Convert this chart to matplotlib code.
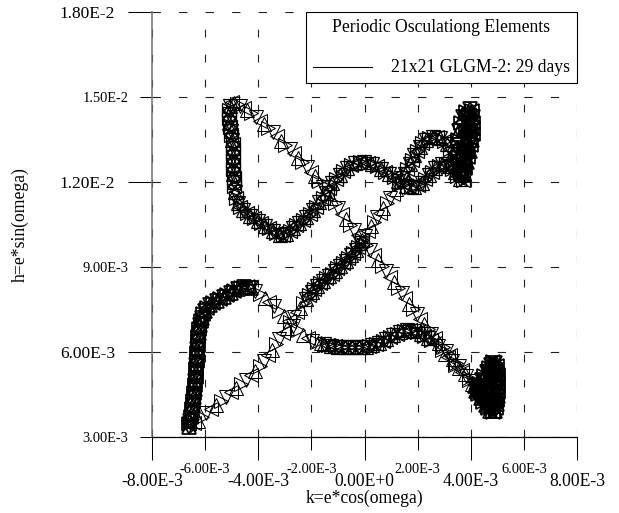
import numpy as np
import matplotlib
matplotlib.use("Agg")
import matplotlib.pyplot as plt
from matplotlib.lines import Line2D
from matplotlib.ticker import FuncFormatter

plt.rcParams["font.family"] = ["Liberation Serif", "DejaVu Serif"]

# orbit trace in units of 1E-3, (k, h) pairs, in the order it is flown
left_rise = [(-6.62, 3.36), (-6.60, 3.45), (-6.57, 3.58), (-6.54, 3.72), (-6.51, 3.86), (-6.49, 4.00),
             (-6.47, 4.14), (-6.45, 4.28), (-6.43, 4.42), (-6.41, 4.56), (-6.40, 4.70), (-6.38, 4.84),
             (-6.37, 4.98), (-6.36, 5.12), (-6.35, 5.26), (-6.34, 5.40), (-6.33, 5.54), (-6.32, 5.68),
             (-6.31, 5.82), (-6.30, 5.96), (-6.29, 6.10), (-6.28, 6.24), (-6.27, 6.38), (-6.26, 6.52),
             (-6.24, 6.66), (-6.22, 6.80), (-6.20, 6.94), (-6.17, 7.08), (-6.13, 7.21), (-6.08, 7.34),
             (-6.01, 7.46), (-5.92, 7.57), (-5.81, 7.66), (-5.69, 7.74), (-5.56, 7.81), (-5.43, 7.88),
             (-5.30, 7.95), (-5.17, 8.02), (-5.04, 8.09), (-4.91, 8.16), (-4.78, 8.22), (-4.65, 8.27),
             (-4.52, 8.30), (-4.39, 8.30), (-4.27, 8.26)]

sweep_fall = [(-4.12, 8.17), (-3.94, 8.04), (-3.76, 7.90), (-3.58, 7.76), (-3.40, 7.61), (-3.22, 7.45),
              (-3.04, 7.28), (-2.86, 7.11), (-2.68, 6.93), (-2.50, 6.76), (-2.32, 6.61), (-2.14, 6.49),
              (-1.96, 6.40), (-1.80, 6.34), (-1.65, 6.31)]

sweep_trough = [(-1.52, 6.28), (-1.39, 6.25), (-1.26, 6.22), (-1.13, 6.20), (-1.00, 6.18), (-0.87, 6.17),
                (-0.74, 6.16), (-0.61, 6.16), (-0.48, 6.16), (-0.35, 6.16), (-0.22, 6.17), (-0.09, 6.18),
                (0.04, 6.19), (0.17, 6.21), (0.30, 6.24), (0.43, 6.28), (0.56, 6.33), (0.69, 6.39),
                (0.82, 6.46), (0.95, 6.53), (1.08, 6.59), (1.21, 6.65), (1.34, 6.70), (1.47, 6.74),
                (1.60, 6.77), (1.73, 6.77), (1.86, 6.74), (1.99, 6.69), (2.12, 6.63), (2.25, 6.56),
                (2.38, 6.49), (2.51, 6.42)]

diag_down = [(2.64, 6.33), (2.77, 6.20), (2.90, 6.07), (3.03, 5.94), (3.16, 5.81), (3.29, 5.68),
             (3.42, 5.55), (3.55, 5.42), (3.68, 5.28), (3.81, 5.14), (3.94, 5.00), (4.06, 4.87),
             (4.18, 4.74)]

low_spike = [(4.30, 4.88), (4.41, 5.02), (4.51, 5.16), (4.60, 5.30), (4.69, 5.43), (4.77, 5.55),
             (4.85, 5.65), (4.92, 5.62), (4.97, 5.50), (5.00, 5.35), (5.02, 5.20), (5.03, 5.05),
             (5.04, 4.90), (5.04, 4.75), (5.03, 4.60), (5.02, 4.45), (5.00, 4.30), (4.98, 4.15),
             (4.95, 4.02), (4.90, 3.92), (4.83, 3.88), (4.74, 3.93), (4.65, 4.02), (4.56, 4.13),
             (4.47, 4.25), (4.38, 4.38), (4.29, 4.51), (4.20, 4.64), (4.40, 4.60), (4.52, 4.78),
             (4.62, 4.97), (4.71, 5.16), (4.78, 5.34), (4.86, 5.46), (4.92, 5.30), (4.94, 5.10),
             (4.94, 4.90), (4.92, 4.70), (4.89, 4.50), (4.85, 4.30), (4.80, 4.12), (4.68, 4.20),
             (4.55, 4.36), (4.42, 4.52), (4.30, 4.66), (4.16, 4.80)]

diag_up = [(4.04, 4.96), (3.92, 5.10), (3.80, 5.24), (3.68, 5.37), (3.56, 5.50), (3.44, 5.63),
           (3.32, 5.76), (3.20, 5.89), (3.07, 6.03), (2.94, 6.17), (2.80, 6.32), (2.66, 6.48),
           (2.52, 6.64), (2.38, 6.81), (2.24, 6.98), (2.10, 7.15), (1.96, 7.33), (1.82, 7.51),
           (1.68, 7.70), (1.54, 7.89), (1.40, 8.08), (1.26, 8.27), (1.12, 8.46), (0.97, 8.66),
           (0.82, 8.86), (0.67, 9.05), (0.52, 9.24), (0.37, 9.42), (0.22, 9.60), (0.07, 9.78),
           (-0.08, 9.96), (-0.23, 10.14), (-0.38, 10.32), (-0.53, 10.50), (-0.68, 10.69), (-0.83, 10.88),
           (-0.98, 11.07), (-1.12, 11.26), (-1.26, 11.45), (-1.40, 11.64), (-1.55, 11.83), (-1.70, 12.02),
           (-1.86, 12.20), (-2.02, 12.37), (-2.18, 12.54), (-2.34, 12.70), (-2.50, 12.86), (-2.66, 13.01),
           (-2.82, 13.16), (-2.98, 13.31), (-3.14, 13.46), (-3.30, 13.61), (-3.46, 13.76), (-3.62, 13.90),
           (-3.78, 14.04), (-3.94, 14.17), (-4.10, 14.30), (-4.26, 14.42), (-4.41, 14.53), (-4.55, 14.62),
           (-4.68, 14.70), (-4.80, 14.76), (-4.91, 14.80), (-5.00, 14.82)]

top_loop = [(-5.06, 14.68), (-5.10, 14.54), (-5.12, 14.40), (-5.11, 14.25), (-5.09, 14.10), (-5.06, 13.95),
            (-5.03, 13.80), (-5.01, 13.65), (-4.99, 13.50), (-4.97, 13.35), (-4.96, 13.20), (-4.95, 13.05),
            (-4.94, 12.90), (-4.94, 12.75), (-4.94, 12.60), (-4.94, 12.45), (-4.94, 12.30), (-4.93, 12.15),
            (-4.92, 12.00), (-4.90, 11.85), (-4.88, 11.65), (-4.84, 11.45), (-4.78, 11.27), (-4.68, 11.12),
            (-4.56, 11.00), (-4.43, 10.90), (-4.30, 10.81), (-4.16, 10.72), (-4.02, 10.63), (-3.88, 10.55),
            (-3.74, 10.46), (-3.60, 10.37), (-3.46, 10.28), (-3.32, 10.20), (-3.19, 10.13), (-3.06, 10.12),
            (-2.94, 10.18), (-2.82, 10.27), (-2.70, 10.37), (-2.58, 10.47), (-2.46, 10.57), (-2.33, 10.67),
            (-2.20, 10.77), (-2.07, 10.88), (-1.94, 11.00), (-1.82, 11.13), (-1.70, 11.28), (-1.58, 11.44),
            (-1.46, 11.61), (-1.34, 11.78), (-1.21, 11.95), (-1.08, 12.11), (-0.94, 12.26), (-0.80, 12.40),
            (-0.65, 12.51), (-0.50, 12.60), (-0.34, 12.66), (-0.18, 12.69), (-0.02, 12.70), (0.14, 12.68),
            (0.30, 12.63), (0.46, 12.56), (0.62, 12.47), (0.78, 12.37), (0.94, 12.27), (1.10, 12.16),
            (1.26, 12.05), (1.42, 11.95), (1.58, 11.87), (1.74, 11.82), (1.88, 11.82), (2.02, 11.88),
            (2.15, 11.98), (2.28, 12.10), (2.41, 12.23), (2.54, 12.36), (2.67, 12.48), (2.80, 12.58),
            (2.93, 12.64), (3.06, 12.64), (3.18, 12.57), (3.29, 12.46), (3.40, 12.34), (3.50, 12.22),
            (3.60, 12.12), (3.70, 12.06)]

high_spike = [(3.62, 12.30), (3.56, 12.60), (3.52, 12.90), (3.50, 13.20), (3.52, 13.50), (3.56, 13.80),
              (3.63, 14.08), (3.72, 14.30), (3.83, 14.48), (3.96, 14.58), (4.05, 14.50), (4.09, 14.30),
              (4.10, 14.10), (4.09, 13.90), (4.07, 13.70), (4.04, 13.50), (4.00, 13.30), (3.96, 13.10),
              (3.91, 12.90), (3.85, 12.70), (3.79, 12.50), (3.73, 12.32), (3.72, 12.60), (3.74, 12.90),
              (3.76, 13.20), (3.79, 13.50), (3.83, 13.80), (3.88, 14.10), (3.93, 14.35), (3.96, 14.05),
              (3.92, 13.75), (3.87, 13.45), (3.82, 13.15), (3.78, 12.85), (3.74, 12.55), (3.70, 12.25)]

return_top = [(3.64, 12.30), (3.56, 12.46), (3.48, 12.64), (3.40, 12.82), (3.31, 13.00), (3.21, 13.17),
              (3.10, 13.33), (2.98, 13.46), (2.85, 13.55), (2.71, 13.60), (2.57, 13.60), (2.43, 13.56),
              (2.30, 13.47), (2.18, 13.36), (2.07, 13.23), (1.97, 13.09), (1.88, 12.94), (1.79, 12.78),
              (1.70, 12.62), (1.61, 12.45), (1.52, 12.30)]

return_mid = [(1.42, 12.13), (1.31, 11.95), (1.19, 11.77), (1.07, 11.59), (0.95, 11.42), (0.83, 11.25),
              (0.71, 11.08), (0.59, 10.91), (0.47, 10.75), (0.35, 10.59), (0.23, 10.43), (0.12, 10.27),
              (0.01, 10.11)]

return_knot = [(-0.08, 9.97), (-0.16, 9.84), (-0.24, 9.72), (-0.33, 9.61), (-0.42, 9.51), (-0.51, 9.41),
               (-0.61, 9.31), (-0.71, 9.22), (-0.81, 9.13), (-0.91, 9.04), (-1.02, 8.95), (-1.13, 8.86),
               (-1.24, 8.77), (-1.35, 8.68), (-1.46, 8.60), (-1.57, 8.51), (-1.68, 8.42), (-1.79, 8.32),
               (-1.89, 8.22), (-1.99, 8.11), (-2.09, 8.00), (-2.19, 7.88)]

return_tail = [(-2.30, 7.73), (-2.42, 7.57), (-2.54, 7.40), (-2.66, 7.23), (-2.79, 7.05), (-2.93, 6.86),
               (-3.07, 6.67), (-3.21, 6.47), (-3.35, 6.27), (-3.49, 6.07), (-3.63, 5.88), (-3.78, 5.69),
               (-3.94, 5.51), (-4.11, 5.34), (-4.28, 5.18), (-4.46, 5.03), (-4.64, 4.88), (-4.83, 4.73),
               (-5.02, 4.58), (-5.21, 4.43), (-5.40, 4.28), (-5.59, 4.13), (-5.77, 3.98), (-5.95, 3.84),
               (-6.12, 3.70), (-6.28, 3.58), (-6.42, 3.48), (-6.53, 3.41)]

# slow stretches pile up into dark bands, fast stretches stay as single triangles;
# the turning points are the darkest of all
turn_parts = [left_rise, low_spike, high_spike]
dense_parts = [sweep_trough, top_loop, return_top, return_knot]
sparse_parts = [sweep_fall, diag_down, diag_up, return_mid, return_tail]

x_major = [-8e-3, -4e-3, 0.0, 4e-3, 8e-3]
x_minor = [-6e-3, -2e-3, 2e-3, 6e-3]
y_major = [6e-3, 12e-3, 18e-3]
y_minor = [3e-3, 9e-3, 15e-3]

legend_title = "Periodic Osculationg Elements"
series_label = "21x21 GLGM-2: 29 days"


def sci_label(v, pos):
    if abs(v) < 1e-12:
        return "0.00E+0"
    e = int(np.floor(np.log10(abs(v)) + 1e-9))
    return f"{v / 10 ** e:.2f}E{e:+d}"


def to_kh(parts):
    pts = np.array([p for seg in parts for p in seg]) * 1e-3
    return pts[:, 0], pts[:, 1]


def draw_band(ax, parts, size, width):
    k, h = to_kh(parts)
    for i, pair in enumerate([("v", "^"), (">", "<")]):
        for m in pair:
            ax.plot(k[i::2], h[i::2], ls="none", marker=m, ms=size, mfc="none",
                    mec="black", mew=width, zorder=3)


fig = plt.figure(figsize=(6.19, 5.13), dpi=100)
ax = fig.add_axes([0.2456, 0.1481, 0.6866, 0.8285])

k, h = to_kh(sparse_parts)
for i, m in enumerate(["v", ">", "^", "<"]):
    ax.plot(k[i::4], h[i::4], ls="none", marker=m, ms=9.4, mfc="none",
            mec="black", mew=0.75, zorder=3)

draw_band(ax, dense_parts, 10.5, 0.9)
draw_band(ax, turn_parts, 10.5, 1.25)

ax.set_xlim(-8e-3, 8e-3)
ax.set_ylim(3e-3, 18e-3)
ax.set_xticks(x_major)
ax.set_xticks(x_minor, minor=True)
ax.set_yticks(y_major)
ax.set_yticks(y_minor, minor=True)
for axis in (ax.xaxis, ax.yaxis):
    axis.set_major_formatter(FuncFormatter(sci_label))
    axis.set_minor_formatter(FuncFormatter(sci_label))

ax.tick_params(axis="x", which="major", direction="out", length=16.6, width=0.75, pad=9.3, labelsize=12.7)
ax.tick_params(axis="x", which="minor", direction="out", length=9.4, width=0.75, pad=9.1, labelsize=10.4)
ax.tick_params(axis="y", which="major", direction="out", length=17.3, width=0.75, pad=9.4, labelsize=12.5)
ax.tick_params(axis="y", which="minor", direction="out", length=8.6, width=0.75, pad=8.6, labelsize=10.4)

ax.grid(True, which="both", axis="x", color="#202020", lw=0.8, linestyle=(0, (7.0, 15.5)))
ax.grid(True, which="both", axis="y", color="#202020", lw=0.8, linestyle=(0, (7.5, 16.4)))
ax.set_axisbelow(True)

for side in ("top", "right"):
    ax.spines[side].set_visible(False)
ax.spines["left"].set_color("#707070")
ax.spines["left"].set_linewidth(1.1)
ax.spines["bottom"].set_color("black")
ax.spines["bottom"].set_linewidth(0.9)

ax.set_xlabel("k=e*cos(omega)", fontsize=12.7)
ax.xaxis.set_label_coords(0.5, -0.125)
ax.set_ylabel("h=e*sin(omega)", fontsize=12.7)
ax.yaxis.set_label_coords(-0.29, 0.5)

handle = Line2D([], [], color="black", lw=0.8)
leg = ax.legend([handle], [series_label], title=legend_title, loc="upper right",
                bbox_to_anchor=(1.0, 1.0), borderaxespad=0, fontsize=12.7, title_fontsize=12.7,
                frameon=True, fancybox=False, framealpha=1, edgecolor="black",
                handlelength=3.35, handleheight=0.2, handletextpad=1.08, borderpad=0.4,
                labelspacing=1.3)
leg.get_frame().set_linewidth(0.8)
leg.set_zorder(10)

fig.savefig("out.png", dpi=100)
